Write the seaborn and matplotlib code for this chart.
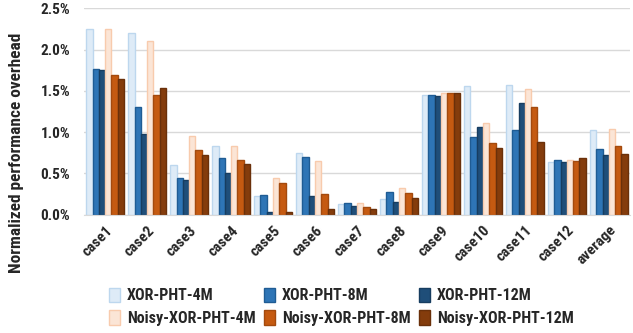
import pandas as pd
import matplotlib
matplotlib.use("Agg")
import matplotlib.pyplot as plt
import seaborn as sns

# Values (percent)
cases = ["case1", "case2", "case3", "case4", "case5", "case6", "case7",
         "case8", "case9", "case10", "case11", "case12", "average"]
configs = ["XOR-PHT-4M", "XOR-PHT-8M", "XOR-PHT-12M",
           "Noisy-XOR-PHT-4M", "Noisy-XOR-PHT-8M", "Noisy-XOR-PHT-12M"]

xor_4m = [2.25, 2.20, 0.60, 0.83, 0.23, 0.75, 0.13, 0.19, 1.45, 1.56, 1.57, 0.64, 1.03]
xor_8m = [1.77, 1.31, 0.44, 0.69, 0.24, 0.70, 0.14, 0.27, 1.45, 0.94, 1.03, 0.66, 0.80]
xor_12m = [1.75, 0.98, 0.42, 0.50, 0.03, 0.23, 0.11, 0.15, 1.44, 1.06, 1.35, 0.64, 0.72]
noisy_4m = [2.25, 2.11, 0.96, 0.83, 0.44, 0.65, 0.14, 0.32, 1.48, 1.11, 1.52, 0.66, 1.04]
noisy_8m = [1.69, 1.45, 0.79, 0.66, 0.39, 0.25, 0.09, 0.26, 1.47, 0.87, 1.31, 0.65, 0.83]
noisy_12m = [1.65, 1.54, 0.72, 0.62, 0.03, 0.07, 0.07, 0.20, 1.48, 0.81, 0.88, 0.69, 0.73]

series = [xor_4m, xor_8m, xor_12m, noisy_4m, noisy_8m, noisy_12m]

fills = ["#DEEBF7", "#2E75B6", "#1F4E79", "#FBE5D6", "#C55A11", "#843C0C"]
edges = ["#BDD7EE", "#1F5C94", "#173D60", "#F8CBAD", "#A34A0E", "#6A300A"]

# long-form table for seaborn
rows = []
for cfg, vals in zip(configs, series):
    for c, v in zip(cases, vals):
        rows.append({"case": c, "config": cfg, "value": v})
df = pd.DataFrame(rows)

sns.set_style("white")
plt.rcParams["font.family"] = ["Roboto Condensed", "Liberation Sans", "DejaVu Sans"]

fig, ax = plt.subplots(figsize=(6.33, 3.33), dpi=100)
fig.subplots_adjust(left=0.133, right=0.995, top=0.975, bottom=0.355)

sns.barplot(data=df, x="case", y="value", hue="config", order=cases,
            hue_order=configs, palette=fills, width=0.9, saturation=1,
            linewidth=1.0, ax=ax, legend=False)

for cont, ec in zip(ax.containers, edges):
    for bar in cont:
        bar.set_edgecolor(ec)

ax.set_ylim(0, 2.5)
ax.set_yticks([0, 0.5, 1.0, 1.5, 2.0, 2.5])
ax.set_yticklabels([f"{v:.1f}%" for v in ax.get_yticks()], fontsize=11, fontweight="bold")
ax.set_xlim(-0.5, len(cases) - 0.5)
ax.yaxis.grid(True, color="#D9D9D9", linewidth=1)
ax.set_axisbelow(True)
for s in ["top", "right", "left"]:
    ax.spines[s].set_visible(False)
ax.spines["bottom"].set_color("#D9D9D9")
ax.tick_params(axis="y", length=0, pad=10)
ax.tick_params(axis="x", length=0, pad=6)

ax.set_xlabel("")
ax.set_ylabel("Normalized performance overhead", fontsize=12.5, fontweight="bold")
ax.yaxis.set_label_coords(-0.11, 0.3)
ax.set_xticks(range(len(cases)))
ax.set_xticklabels(cases, rotation=45, ha="right", rotation_mode="anchor",
                   fontsize=11, fontweight="bold")

handles = [plt.Rectangle((0, 0), 1, 1, facecolor=f, edgecolor=e, linewidth=1)
           for f, e in zip(fills, edges)]
# legend fills column by column, so interleave to get the row layout
order = [0, 3, 1, 4, 2, 5]
fig.legend([handles[i] for i in order], [configs[i] for i in order],
           loc="upper left", bbox_to_anchor=(0.155, 0.17),
           ncol=3, frameon=False, prop={"size": 11.5, "weight": "bold"},
           handlelength=0.7, handleheight=1.0, handletextpad=0.4,
           columnspacing=0.55, labelspacing=0.45, borderpad=0.2)

fig.savefig("out.png", dpi=100)
